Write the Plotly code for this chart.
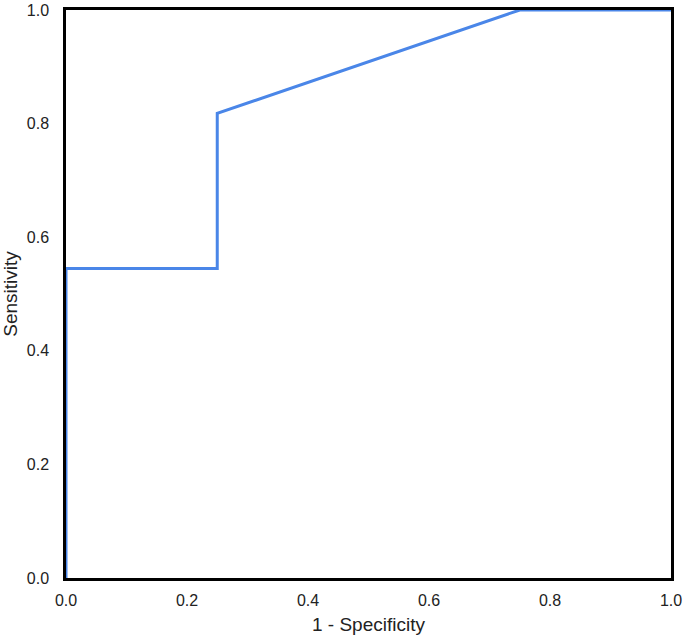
import plotly.graph_objects as go

fpr = [0.0, 0.0, 0.25, 0.25, 0.75, 1.0]
tpr = [0.0, 0.545, 0.545, 0.818, 1.0, 1.0]
tick_vals = [0.0, 0.2, 0.4, 0.6, 0.8, 1.0]
tick_text = ["0.0", "0.2", "0.4", "0.6", "0.8", "1.0"]

FONT = "Liberation Sans, Arial, Helvetica"

fig = go.Figure()
fig.add_trace(go.Scatter(x=fpr, y=tpr, mode="lines",
                         line=dict(color="#4a86e8", width=3), showlegend=False))

axis_common = dict(range=[0, 1], tickvals=tick_vals, ticktext=tick_text,
                   showgrid=False, zeroline=False, showline=True, linecolor="black",
                   linewidth=2.5, mirror=True, ticks="", layer="below traces",
                   automargin=False,
                   tickfont=dict(family=FONT, size=16, color="#222"))

fig.update_layout(
    width=685, height=640,
    margin=dict(l=66, r=14, t=10, b=62),
    plot_bgcolor="white", paper_bgcolor="white",
    xaxis=dict(title=dict(text="1 - Specificity", standoff=10,
                          font=dict(family=FONT, size=19, color="#222")),
               ticklabelstandoff=6, **axis_common),
    yaxis=dict(title=dict(text="Sensitivity", standoff=8,
                          font=dict(family=FONT, size=19, color="#222")),
               ticklabelstandoff=11, **axis_common),
)
fig.write_html("out.html", config={"displayModeBar": False},
               post_script="document.body.style.margin='0';document.body.style.padding='0';")
